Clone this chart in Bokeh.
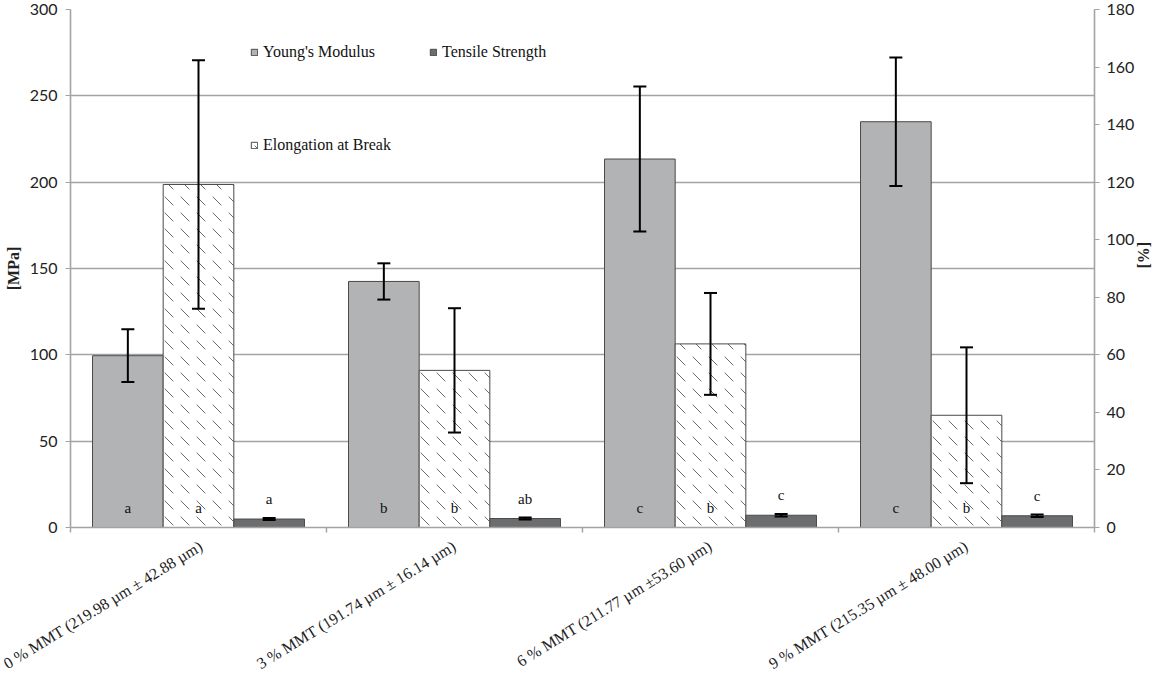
import math
from bokeh.plotting import figure
from bokeh.models import (Range1d, LinearAxis, FixedTicker, ColumnDataSource, Whisker,
                          TeeHead, Legend, LegendItem)
from bokeh.core.properties import value
from bokeh.embed import file_html
from bokeh.resources import INLINE

# ---------------- data ----------------
categories = ["0 % MMT (219.98 µm ± 42.88 µm)",
              "3 % MMT (191.74 µm ± 16.14 µm)",
              "6 % MMT (211.77 µm ±53.60 µm)",
              "9 % MMT (215.35 µm ± 48.00 µm)"]
youngs_modulus = [99.5, 142.5, 213.4, 235.0]          # MPa
youngs_modulus_err = [15.3, 10.5, 42.0, 37.2]
elongation = [119.2, 54.6, 63.8, 39.0]                 # %
elongation_err = [43.2, 21.6, 17.7, 23.6]
tensile_strength = [4.9, 5.2, 7.1, 6.8]                # MPa
tensile_strength_err = [0.6, 0.6, 0.7, 0.7]
ym_letters = ["a", "b", "c", "c"]
eab_letters = ["a", "b", "b", "b"]
ts_letters = ["a", "ab", "c", "c"]
mpa_ticks = [0, 50, 100, 150, 200, 250, 300]
pct_ticks = [0, 20, 40, 60, 80, 100, 120, 140, 160, 180]

# ---------------- layout helpers ----------------
n = len(categories)
bw = 0.276
centers = [i + 0.5 for i in range(n)]
x_ym = [c - bw for c in centers]
x_eab = centers
x_ts = [c + bw for c in centers]

ym_src = ColumnDataSource(dict(x=x_ym, top=youngs_modulus,
                               upper=[v + e for v, e in zip(youngs_modulus, youngs_modulus_err)],
                               lower=[v - e for v, e in zip(youngs_modulus, youngs_modulus_err)],
                               lab=ym_letters, base=[0] * n))
eab_src = ColumnDataSource(dict(x=x_eab, top=elongation,
                                upper=[v + e for v, e in zip(elongation, elongation_err)],
                                lower=[v - e for v, e in zip(elongation, elongation_err)],
                                lab=eab_letters, base=[0] * n))
ts_src = ColumnDataSource(dict(x=x_ts, top=tensile_strength,
                               upper=[v + e for v, e in zip(tensile_strength, tensile_strength_err)],
                               lower=[v - e for v, e in zip(tensile_strength, tensile_strength_err)],
                               lab=ts_letters))

AX = "#a3a3a3"
TXT = "#222222"

p = figure(width=1166, height=683, output_backend="svg", toolbar_location=None,
           x_range=Range1d(0, n), y_range=Range1d(0, 300),
           min_border_left=70, min_border_right=72, min_border_top=9, min_border_bottom=156)
p.extra_y_ranges = {"pct": Range1d(0, 180)}
p.outline_line_color = None
p.background_fill_color = "white"

# grid
p.xgrid.visible = False
p.ygrid.grid_line_color = AX
p.ygrid.grid_line_width = 1.6
p.ygrid.ticker = FixedTicker(ticks=mpa_ticks)

# left axis
ya = p.yaxis[0]
ya.ticker = FixedTicker(ticks=mpa_ticks)
ya.axis_label = "[MPa]"
ya.axis_label_text_font = "Liberation Serif"
ya.axis_label_text_font_style = "bold"
ya.axis_label_text_font_size = "16px"
ya.axis_label_text_color = TXT
ya.axis_label_standoff = 5
ya.major_label_text_font = "Lato"
ya.major_label_text_font_size = "16px"
ya.major_label_text_color = TXT
ya.major_label_standoff = 8
ya.axis_line_color = AX
ya.axis_line_width = 1.6
ya.major_tick_line_color = AX
ya.major_tick_in = 0
ya.major_tick_out = 5
ya.minor_tick_line_color = None

# right axis
ra = LinearAxis(y_range_name="pct", ticker=FixedTicker(ticks=pct_ticks), axis_label="[%]")
ra.axis_label_text_font = "Liberation Serif"
ra.axis_label_text_font_style = "bold"
ra.axis_label_text_font_size = "16px"
ra.axis_label_text_color = TXT
ra.axis_label_standoff = 6
ra.axis_label_orientation = math.pi / 2
ra.major_label_text_font = "Lato"
ra.major_label_text_font_size = "16px"
ra.major_label_text_color = TXT
ra.major_label_standoff = 7
ra.axis_line_color = AX
ra.axis_line_width = 1.6
ra.major_tick_line_color = AX
ra.major_tick_in = 0
ra.major_tick_out = 5
ra.minor_tick_line_color = None
p.add_layout(ra, "right")

# bottom axis: tick marks at group boundaries, rotated labels under group centres
xa = p.xaxis[0]
xa.ticker = FixedTicker(ticks=centers, minor_ticks=list(range(n + 1)))
xa.major_label_overrides = {c: lab for c, lab in zip(centers, categories)}
xa.major_label_orientation = 0.55
xa.major_label_text_font = "Liberation Serif"
xa.major_label_text_font_size = "16px"
xa.major_label_text_color = TXT
xa.major_label_standoff = 11
xa.major_tick_line_color = None
xa.minor_tick_line_color = AX
xa.minor_tick_line_width = 1.4
xa.minor_tick_in = 0
xa.minor_tick_out = 5
xa.axis_line_color = AX
xa.axis_line_width = 1.6

# bars
r_ym = p.vbar(x="x", top="top", width=bw, source=ym_src, fill_color="#b2b3b5",
              line_color="#4a4a4a", line_width=1)
r_eab = p.vbar(x="x", top="top", width=bw, source=eab_src, y_range_name="pct",
               fill_color="white", line_color="#4a4a4a", line_width=1,
               hatch_pattern="left_diagonal_dash", hatch_scale=16, hatch_color="#6a6a6a",
               hatch_weight=1)
r_ts = p.vbar(x="x", top="top", width=bw, source=ts_src, fill_color="#6c6d6f",
              line_color="#4a4a4a", line_width=1)

# error bars
def whisk(src, rng=None):
    kw = {}
    if rng:
        kw["y_range_name"] = rng
    w = Whisker(source=src, base="x", upper="upper", lower="lower", dimension="height",
                line_color="black", line_width=2, level="overlay",
                upper_head=TeeHead(size=13, line_color="black", line_width=2),
                lower_head=TeeHead(size=13, line_color="black", line_width=2), **kw)
    p.add_layout(w)

whisk(ym_src)
whisk(eab_src, "pct")
whisk(ts_src)

# significance letters
for src in (ym_src, eab_src):
    p.text(x="x", y="base", text="lab", source=src, text_font=value("Liberation Serif"),
           text_font_size="15px", text_align="center", text_baseline="middle",
           text_color="#111111", y_offset=-20)
p.text(x="x", y="top", text="lab", source=ts_src, text_font=value("Liberation Serif"),
       text_font_size="15px", text_align="center", text_baseline="middle",
       text_color="#111111", y_offset=-20)

# legends
def mk_legend(items, loc, orientation="horizontal"):
    lg = Legend(items=items, location=loc, orientation=orientation,
                label_text_font="Liberation Serif", label_text_font_size="16px",
                label_text_color="#111111", glyph_width=8, glyph_height=8,
                label_height=16, label_standoff=5, spacing=54, padding=0, margin=0,
                border_line_alpha=0, background_fill_alpha=0)
    p.add_layout(lg, "center")

mk_legend([LegendItem(label="Young's Modulus", renderers=[r_ym]),
           LegendItem(label="Tensile Strength", renderers=[r_ts])], (180, 466))
mk_legend([LegendItem(label="Elongation at Break", renderers=[r_eab])], (180, 373))

open("out.html", "w").write(file_html(p, INLINE))
